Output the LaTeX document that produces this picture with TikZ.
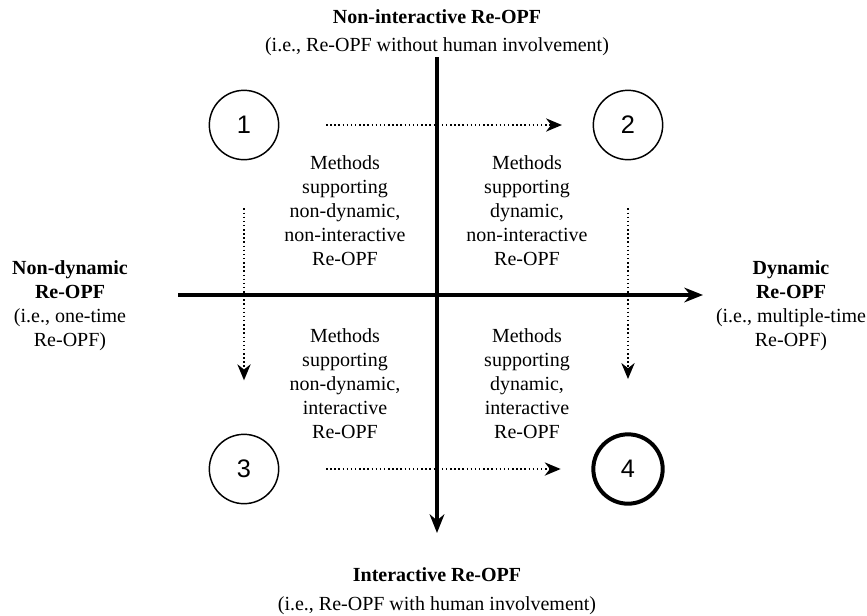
\documentclass[tikz,border=0pt]{standalone}
\usepackage{fontspec}
\setmainfont{Liberation Serif}
\newfontfamily\numfont{Liberation Sans}
\usetikzlibrary{arrows.meta,positioning}

\begin{document}
\begin{tikzpicture}[x=0.75pt,y=0.75pt,
  every node/.style={font=\fontsize{15}{18}\selectfont, align=center},
  stage/.style={circle, draw, line width=1.1pt, minimum size=52pt, inner sep=0pt,
                font=\numfont\fontsize{19}{19}\selectfont},
  axis/.style={line width=3pt, -{Stealth[length=14pt,width=11pt]}},
  move/.style={dotted, line width=1.1pt, -{Stealth[length=12pt,width=10pt]}}]
  \useasboundingbox (0,0) rectangle (867,-615);
  % 四个阶段
  \node[stage] (c1) at (244,-125) {1};
  \node[stage] (c2) at (628,-125) {2};
  \node[stage] (c3) at (244,-469) {3};
  \node[stage, line width=3pt] (c4) at (628,-469) {4};
  % 坐标轴端点
  \coordinate (ytop) at (437,-57);
  \coordinate (ybot) at (437,-533);
  \coordinate (xleft) at (178,-295);
  \coordinate (xright) at (703,-295);
  \draw[axis] (ytop) -- (ybot);
  \draw[axis] (xleft) -- (xright);
  % 阶段之间的虚线箭头
  \draw[move, shorten <=35pt, shorten >=23pt] (c1) -- (c2);
  \draw[move, shorten <=35pt, shorten >=23pt] (c3) -- (c4);
  \draw[move, shorten <=36pt, shorten >=40pt] (c1) -- (c3);
  \draw[move, shorten <=36pt, shorten >=40pt] (c2) -- (c4);
  % 轴标签
  \node (top) at (437,-33) {\textbf{Non-interactive Re-OPF}\\[3pt](i.e., Re-OPF without human involvement)};
  \node (bot) at (437,-591) {\textbf{Interactive Re-OPF}\\[4pt](i.e., Re-OPF with human involvement)};
  \node (lft) at (70,-306) {\textbf{Non-dynamic}\\\textbf{Re-OPF}\\(i.e., one-time\\Re-OPF)};
  \node (rgt) at (791,-306) {\textbf{Dynamic}\\\textbf{Re-OPF}\\(i.e., multiple-time\\Re-OPF)};
  % 象限说明
  \node (q1) at (345,-211) {Methods\\supporting\\non-dynamic,\\non-interactive\\Re-OPF};
  \node (q2) at (527,-211) {Methods\\supporting\\dynamic,\\non-interactive\\Re-OPF};
  \node (q3) at (345,-384) {Methods\\supporting\\non-dynamic,\\interactive\\Re-OPF};
  \node (q4) at (527,-384) {Methods\\supporting\\dynamic,\\interactive\\Re-OPF};
\end{tikzpicture}
\end{document}
